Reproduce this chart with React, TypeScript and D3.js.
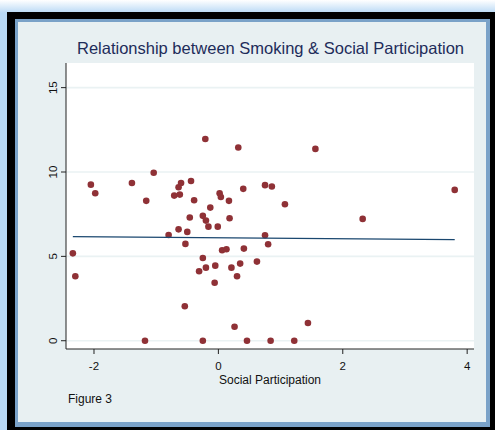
import React from "react";
import * as d3 from "d3";

const socialParticipation = [
  -0.21, 0.32, 1.56, -2.05, -1.98, -1.39, -1.04, -1.16, -0.71, -0.62,
  -0.64, -0.6, -0.44, -0.39, -0.13, 0.02, 0.04, 0.17, 0.4, 0.75,
  0.86, 1.07, 3.8, -0.25, -0.2, -0.16, -0.01, 0.18, 2.32, -0.46,
  -0.8, -0.64, -0.5, -0.53, 0.75, 0.8, -2.34, -2.3, -0.25, -0.31,
  -0.2, -0.05, -0.06, 0.06, 0.13, 0.41, 0.21, 0.35, 0.3, 0.62,
  -0.54, 0.26, 1.44, -1.18, -0.25, 0.46, 0.84, 1.22,
];
const smoking = [
  11.96, 11.45, 11.37, 9.25, 8.74, 9.35, 9.96, 8.29, 8.6, 8.66,
  9.1, 9.35, 9.47, 8.33, 7.89, 8.74, 8.52, 8.29, 9.0, 9.22,
  9.14, 8.09, 8.94, 7.4, 7.12, 6.76, 6.76, 7.26, 7.22, 7.3,
  6.27, 6.6, 6.45, 5.74, 6.25, 5.72, 5.18, 3.82, 4.9, 4.12,
  4.33, 4.45, 3.44, 5.36, 5.42, 5.46, 4.33, 4.57, 3.82, 4.69,
  2.04, 0.83, 1.05, 0, 0, 0, 0, 0,
];
const fitX = [-2.34, 3.8];
const fitY = [6.17, 5.99];
const xTicks = [-2, 0, 2, 4];
const yTicks = [0, 5, 10, 15];
const titleText = "Relationship between Smoking & Social Participation";
const xLabel = "Social Participation";
const noteText = "Figure 3";

const W = 495;
const H = 430;
const plot = { left: 66, right: 474, top: 63, bottom: 349 };

export default function App() {
  const x = d3.scaleLinear().domain([-2.45, 4.11]).range([plot.left, plot.right]);
  const y = d3.scaleLinear().domain([-0.49, 16.46]).range([plot.bottom, plot.top]);
  const line = d3
    .line<number>()
    .x((_, i) => x(fitX[i]))
    .y((d) => y(d));
  const font = "'Liberation Sans', Arial, sans-serif";
  return (
    <svg
      width={W}
      height={H}
      style={{ position: "absolute", left: 0, top: 0, display: "block" }}
      fontFamily={font}
    >
      <defs>
        <linearGradient id="glowTop" x1="0" y1="0" x2="0" y2="1">
          <stop offset="0" stopColor="#ffffff" />
          <stop offset="1" stopColor="#b9d9f5" />
        </linearGradient>
      </defs>
      <rect x={0} y={0} width={W} height={H} fill="#b9d9f5" />
      <rect x={0} y={0} width={W} height={13} fill="url(#glowTop)" />
      <rect x={7} y={12} width={W} height={H} fill="#000000" />
      <rect x={15} y={19} width={475} height={408} fill="#7aa2c8" />
      <rect x={18} y={22} width={468} height={400} fill="#e8f0f2" />
      <rect
        x={plot.left}
        y={plot.top}
        width={plot.right - plot.left}
        height={plot.bottom - plot.top}
        fill="#ffffff"
      />
      {yTicks.map((t) => (
        <line
          key={"g" + t}
          x1={plot.left}
          x2={plot.right}
          y1={y(t)}
          y2={y(t)}
          stroke="#eaf2f3"
          strokeWidth={1.6}
        />
      ))}
      <line x1={plot.left} x2={plot.left} y1={plot.top} y2={plot.bottom} stroke="#222" strokeWidth={1} />
      <line x1={plot.left} x2={plot.right} y1={plot.bottom} y2={plot.bottom} stroke="#222" strokeWidth={1} />
      {yTicks.map((t) => (
        <g key={"y" + t}>
          <line x1={plot.left - 5} x2={plot.left} y1={y(t)} y2={y(t)} stroke="#222" strokeWidth={1} />
          <text
            transform={`translate(57,${y(t)}) rotate(-90)`}
            textAnchor="middle"
            fontSize={11.5}
            fill="#111"
          >
            {t}
          </text>
        </g>
      ))}
      {xTicks.map((t) => (
        <g key={"x" + t}>
          <line x1={x(t)} x2={x(t)} y1={plot.bottom} y2={plot.bottom + 5} stroke="#222" strokeWidth={1} />
          <text x={x(t)} y={370} textAnchor="middle" fontSize={11.5} fill="#111">
            {t}
          </text>
        </g>
      ))}
      {socialParticipation.map((v, i) => (
        <circle key={"p" + i} cx={x(v)} cy={y(smoking[i])} r={3.3} fill="#8f3136" />
      ))}
      <path d={line(fitY) || ""} fill="none" stroke="#1a476f" strokeWidth={1.4} />
      <text x={270.5} y={54} textAnchor="middle" fontSize={16.5} fill="#1e2c5a">
        {titleText}
      </text>
      <text x={270} y={384} textAnchor="middle" fontSize={12} fill="#111">
        {xLabel}
      </text>
      <text x={68} y={403} fontSize={12} fill="#111">
        {noteText}
      </text>
    </svg>
  );
}
